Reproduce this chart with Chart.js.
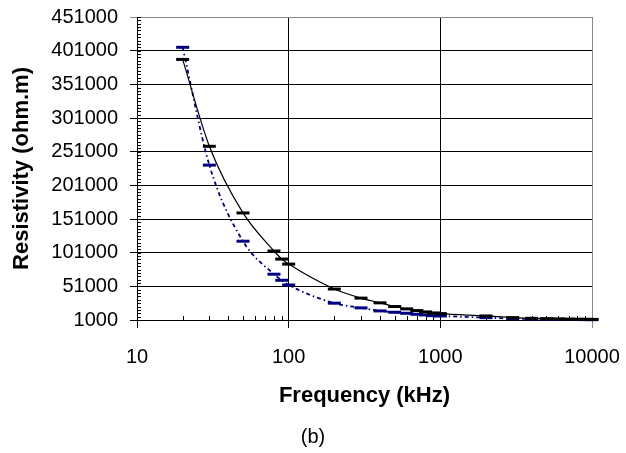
<!DOCTYPE html>
<html>
<head>
<meta charset="utf-8">
<script src="https://cdn.jsdelivr.net/npm/chart.js@4.4.0/dist/chart.umd.min.js"></script>
<style>
  html, body { margin: 0; padding: 0; background: #fff; }
  #wrap { width: 626px; height: 453px; }
</style>
</head>
<body>
<div id="wrap"><canvas id="grafico" width="626" height="453"></canvas></div>
<script>
// frequencies (kHz) and resistivity (ohm.m)
var frequencias = [20, 30, 50, 80, 90, 100, 200, 300, 400, 500, 600, 700, 800, 900,
  1000, 2000, 3000, 4000, 5000, 6000, 7000, 8000, 9000, 10000];
var serieSolida = [388000, 259000, 160000, 103500, 91500, 84000, 47000, 33500, 26500, 21000,
  17500, 15000, 13000, 11500, 10500, 7000, 4500, 3500, 3000, 2600, 2300, 2100, 2000, 1900];
var seriePontilhada = [406000, 231000, 118000, 69000, 60000, 53000, 26000, 19000, 14500, 12500,
  11000, 9500, 8500, 7500, 7000, 4500, 3000, 2500, 2200, 2000, 1800, 1700, 1600, 1500];

var ticksX = [10, 100, 1000, 10000];
var ticksY = [1000, 51000, 101000, 151000, 201000, 251000, 301000, 351000, 401000, 451000];

function pontos(valores) {
  return frequencias.map(function (f, i) { return { x: f, y: valores[i] }; });
}

// small inner ticks like the original axes
var marcasMenores = {
  id: 'marcasMenores',
  afterDraw: function (chart) {
    var ctx = chart.ctx;
    var sx = chart.scales.x, sy = chart.scales.y;
    ctx.save();
    ctx.strokeStyle = '#000';
    ctx.lineWidth = 1;
    ctx.beginPath();
    for (var d = 10; d < 10000; d *= 10) {
      for (var m = 2; m <= 9; m++) {
        var px = Math.round(sx.getPixelForValue(d * m)) + 0.5;
        ctx.moveTo(px, sy.bottom);
        ctx.lineTo(px, sy.bottom - 4);
      }
    }
    for (var v = 1000; v <= 451000; v += 5000) {
      var py = Math.round(sy.getPixelForValue(v)) + 0.5;
      ctx.moveTo(sx.left, py);
      ctx.lineTo(sx.left + 4, py);
    }
    ctx.stroke();
    ctx.restore();
  }
};

Chart.defaults.font.family = '"Liberation Sans", Arial, sans-serif';
Chart.defaults.color = '#000';

var ctx = document.getElementById('grafico').getContext('2d');
var meuGrafico = new Chart(ctx, {
  type: 'line',
  data: {
    datasets: [{
      label: 'a',
      data: pontos(serieSolida),
      borderColor: '#000',
      borderWidth: 1.2,
      pointStyle: 'line',
      pointRadius: 6.5,
      pointBorderWidth: 3,
      pointBorderColor: '#000',
      cubicInterpolationMode: 'monotone',
      fill: false,
      clip: false
    }, {
      label: 'b',
      data: pontos(seriePontilhada),
      borderColor: '#000080',
      borderWidth: 1.8,
      borderDash: [4, 3, 1.5, 3],
      pointStyle: 'line',
      pointRadius: 6.5,
      pointBorderWidth: 3,
      pointBorderColor: '#000080',
      cubicInterpolationMode: 'monotone',
      fill: false,
      clip: false
    }]
  },
  options: {
    responsive: false,
    animation: false,
    events: [],
    layout: { padding: 0 },
    plugins: {
      legend: { display: false },
      tooltip: { enabled: false },
      title: {
        display: true,
        text: '(b)',
        position: 'bottom',
        font: { size: 20, weight: 'normal' },
        padding: { top: 10, bottom: 4 }
      }
    },
    scales: {
      x: {
        type: 'logarithmic',
        min: 10,
        max: 10000,
        afterBuildTicks: function (scale) {
          scale.ticks = ticksX.map(function (v) { return { value: v }; });
        },
        afterFit: function (scale) {
          scale.height = 95;
          scale.paddingLeft = 0;
          scale.paddingRight = 34;
        },
        ticks: {
          font: { size: 20 },
          padding: 17,
          maxRotation: 0,
          autoSkip: false,
          callback: function (v) { return String(v); }
        },
        grid: {
          color: function (c) { return c.tick && c.tick.value === 10000 ? '#888' : '#000'; },
          lineWidth: 1,
          tickLength: 8
        },
        border: { color: '#000', width: 1 },
        title: {
          display: true,
          text: 'Frequency (kHz)',
          font: { size: 22, weight: 'bold' },
          padding: { top: 0, bottom: 6 }
        }
      },
      y: {
        type: 'linear',
        min: 1000,
        max: 451000,
        afterBuildTicks: function (scale) {
          scale.ticks = ticksY.map(function (v) { return { value: v }; });
        },
        afterFit: function (scale) {
          scale.width = 137;
          scale.paddingTop = 17;
          scale.paddingBottom = 0;
        },
        ticks: {
          font: { size: 20 },
          padding: 12,
          autoSkip: false,
          callback: function (v) { return String(v); }
        },
        grid: {
          color: function (c) { return c.tick && c.tick.value === 451000 ? '#888' : '#000'; },
          lineWidth: 1,
          tickLength: 7
        },
        border: { color: '#000', width: 1 },
        title: {
          display: true,
          text: 'Resistivity (ohm.m)',
          font: { size: 22, weight: 'bold' },
          padding: { top: 9, bottom: 0 }
        }
      }
    }
  },
  plugins: [marcasMenores]
});
</script>
</body>
</html>
